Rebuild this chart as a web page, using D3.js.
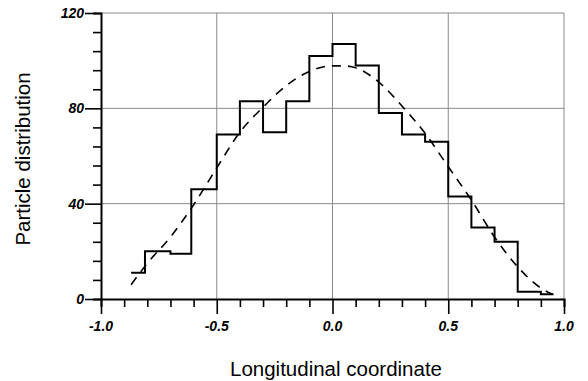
<!DOCTYPE html>
<html>
<head>
<meta charset="utf-8">
<script src="https://cdn.jsdelivr.net/npm/d3@7"></script>
<style>
  body { margin: 0; background: #fff; }
  text { font-family: "Liberation Sans", Arial, sans-serif; }
</style>
</head>
<body>
<svg width="588" height="381"></svg>
<script>
// histogram bin edges and counts
const binEdges = [-0.87, -0.81, -0.7, -0.61, -0.5, -0.4, -0.3, -0.2, -0.1, 0.0, 0.1, 0.2, 0.3, 0.4, 0.5, 0.6, 0.7, 0.8, 0.9, 0.955]
const binCounts = [11, 20, 19, 46, 69, 83, 70, 83, 102, 107, 98, 78, 69, 66, 43, 30, 24, 3, 2]

// fitted curve (dashed)
const fitX = [-0.87, -0.8, -0.7, -0.6, -0.5, -0.4, -0.3, -0.2, -0.1, 0.0, 0.05, 0.1, 0.2, 0.3, 0.4, 0.5, 0.6, 0.7, 0.8, 0.9, 0.95]
const fitY = [6, 15, 26, 39.5, 55, 70, 80.5, 89.5, 95.5, 97.8, 97.8, 97, 91, 81, 69.5, 55.5, 41.5, 26, 13.5, 4.6, 2]

const xTicks = [-1.0, -0.5, 0.0, 0.5, 1.0]
const yTicks = [0, 40, 80, 120]

const svg = d3.select('svg')

const x = d3.scaleLinear().domain([-1, 1]).range([101, 564])
const y = d3.scaleLinear().domain([0, 120]).range([299, 13])

// grid
svg.selectAll('.hgrid')
  .data(yTicks.filter(d => d > 0))
  .enter().append('line')
    .attr('x1', x(-1)).attr('x2', x(1))
    .attr('y1', d => y(d)).attr('y2', d => y(d))
    .attr('stroke', '#8a8a8a').attr('stroke-width', 1)

svg.selectAll('.vgrid')
  .data(xTicks.filter(d => d > -1))
  .enter().append('line')
    .attr('x1', d => x(d)).attr('x2', d => x(d))
    .attr('y1', y(0)).attr('y2', y(120))
    .attr('stroke', '#8a8a8a').attr('stroke-width', 1)

// axes
const xAxis = d3.axisBottom(x)
  .tickValues(d3.range(-10, 11).map(i => i / 10))
  .tickSize(8)
  .tickFormat('')
const gx = svg.append('g').attr('transform', `translate(0,${y(0)})`).call(xAxis)

const yAxis = d3.axisLeft(y)
  .tickValues(d3.range(0, 121, 8))
  .tickSize(8)
  .tickFormat('')
const gy = svg.append('g').attr('transform', `translate(${x(-1)},0)`).call(yAxis)

;[gx, gy].forEach(g => {
  g.select('.domain').attr('stroke', '#000').attr('stroke-width', 2)
  g.selectAll('.tick line').attr('stroke', '#000').attr('stroke-width', 1.6)
})
gx.selectAll('.tick line').filter(d => Math.abs(d * 2 - Math.round(d * 2)) < 1e-6).attr('y2', 15)
gy.selectAll('.tick line').filter(d => d % 40 === 0).attr('x2', -16)

// tick labels
svg.selectAll('.xlab')
  .data(xTicks)
  .enter().append('text')
    .attr('x', d => x(d)).attr('y', y(0) + 32)
    .attr('text-anchor', 'middle')
    .attr('font-size', 14).attr('font-weight', 'bold').attr('font-style', 'italic')
    .text(d => d.toFixed(1))

svg.selectAll('.ylab')
  .data(yTicks)
  .enter().append('text')
    .attr('x', x(-1) - 17).attr('y', d => y(d) + 5)
    .attr('text-anchor', 'end')
    .attr('font-size', 14).attr('font-weight', 'bold').attr('font-style', 'italic')
    .text(d => d)

// histogram
const histData = binCounts.map((c, i) => [binEdges[i], c]).concat([[binEdges[binEdges.length - 1], binCounts[binCounts.length - 1]]])
svg.append('path')
  .datum(histData)
  .attr('fill', 'none')
  .attr('stroke', '#000')
  .attr('stroke-width', 2)
  .attr('d', d3.line().x(d => x(d[0])).y(d => y(d[1])).curve(d3.curveStepAfter))

// fitted curve
svg.append('path')
  .datum(fitX.map((v, i) => [v, fitY[i]]))
  .attr('fill', 'none')
  .attr('stroke', '#000')
  .attr('stroke-width', 1.6)
  .attr('stroke-dasharray', '9,7')
  .attr('d', d3.line().x(d => x(d[0])).y(d => y(d[1])).curve(d3.curveMonotoneX))

// axis titles
svg.append('text')
  .attr('x', 336).attr('y', 376)
  .attr('text-anchor', 'middle')
  .attr('font-size', 20.5)
  .text('Longitudinal coordinate')

svg.append('text')
  .attr('transform', 'translate(30,159) rotate(-90)')
  .attr('text-anchor', 'middle')
  .attr('font-size', 20.5)
  .text('Particle distribution')
</script>
</body>
</html>
